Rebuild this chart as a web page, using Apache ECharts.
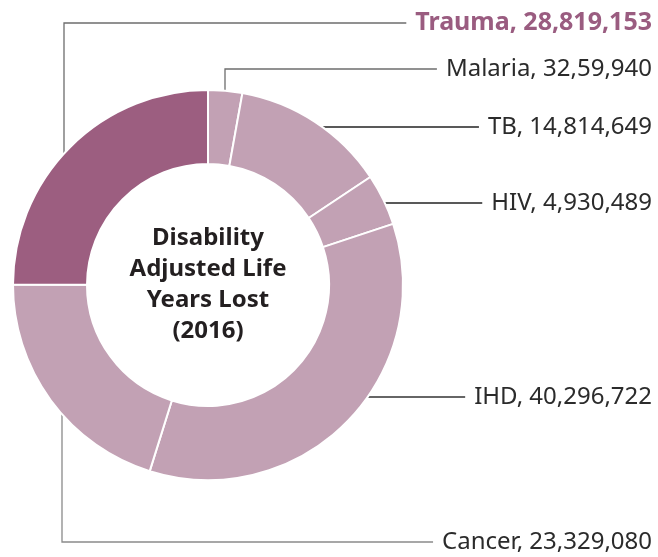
<!DOCTYPE html>
<html>
<head>
<meta charset="utf-8">
<script src="https://cdn.jsdelivr.net/npm/echarts@6/dist/echarts.min.js"></script>
<style>
  html, body { margin: 0; padding: 0; background: #fff; }
  #main { width: 658px; height: 557px; }
</style>
</head>
<body>
<div id="main"></div>
<script>
// categories in clockwise order from 12 o'clock
const categories = ['Malaria', 'TB', 'HIV', 'IHD', 'Cancer', 'Trauma']
const values = [3259940, 14814649, 4930489, 40296722, 23329080, 28819153]
// value text exactly as printed on the chart
const valueText = ['32,59,940', '14,814,649', '4,930,489', '40,296,722', '23,329,080', '28,819,153']

const cx = 208, cy = 285, r0 = 121, r1 = 195
const rightEdge = 652
// leader line layout: 'v' = goes up/down first from x, 'h' = straight across at y
const leaders = [
  {mode: 'v', x: 225, y: 69, side: -1},
  {mode: 'h', y: 127},
  {mode: 'h', y: 203},
  {mode: 'h', y: 397},
  {mode: 'v', x: 62, y: 542, side: 1},
  {mode: 'v', x: 64, y: 23, side: -1}
]
const lineColors = ['#6d6d6d', '#222', '#222', '#333', '#8a8a8a', '#6d6d6d']

const light = '#c2a1b4'
const dark = '#9c5e80'

let myChart = echarts.init(document.getElementById('main'))

const data = categories.map((name, i) => {
  const isTrauma = name === 'Trauma'
  return {
    name: name,
    value: values[i],
    itemStyle: {color: isTrauma ? dark : light},
    label: isTrauma ? {color: '#9a5c80', fontWeight: 'bold', fontSize: 25} : {},
    labelLine: {lineStyle: {color: lineColors[i]}}
  }
})

myChart.setOption({
  animation: false,
  graphic: [{
    type: 'text',
    x: cx,
    y: cy,
    style: {
      text: 'Disability\nAdjusted Life\nYears Lost\n(2016)',
      fill: '#231f20',
      font: 'bold 24px "Noto Sans"',
      lineHeight: 31,
      align: 'center',
      verticalAlign: 'middle'
    }
  }],
  series: [{
    type: 'pie',
    center: [cx, cy],
    radius: [r0, r1],
    startAngle: 90,
    clockwise: true,
    avoidLabelOverlap: false,
    itemStyle: {borderColor: '#fff', borderWidth: 2},
    label: {
      show: true,
      position: 'outside',
      fontFamily: 'Noto Sans',
      fontSize: 24,
      color: '#2b2b2b',
      formatter: p => p.name + ', ' + valueText[p.dataIndex]
    },
    labelLine: {show: true, length: 10, length2: 10, lineStyle: {width: 1.3}},
    labelLayout: function (params) {
      const L = leaders[params.dataIndex]
      const w = params.labelRect.width
      const endX = rightEdge - w - 9
      let pts
      if (L.mode === 'v') {
        const sy = cy + L.side * Math.sqrt(r1 * r1 - (L.x - cx) * (L.x - cx))
        pts = [[L.x, sy], [L.x, L.y], [endX, L.y]]
      } else {
        const sx = cx + Math.sqrt(r1 * r1 - (L.y - cy) * (L.y - cy))
        pts = [[sx, L.y], [(sx + endX) / 2, L.y], [endX, L.y]]
      }
      return {
        x: rightEdge,
        y: L.y,
        align: 'right',
        verticalAlign: 'middle',
        labelLinePoints: pts
      }
    },
    data: data
  }]
})
</script>
</body>
</html>
